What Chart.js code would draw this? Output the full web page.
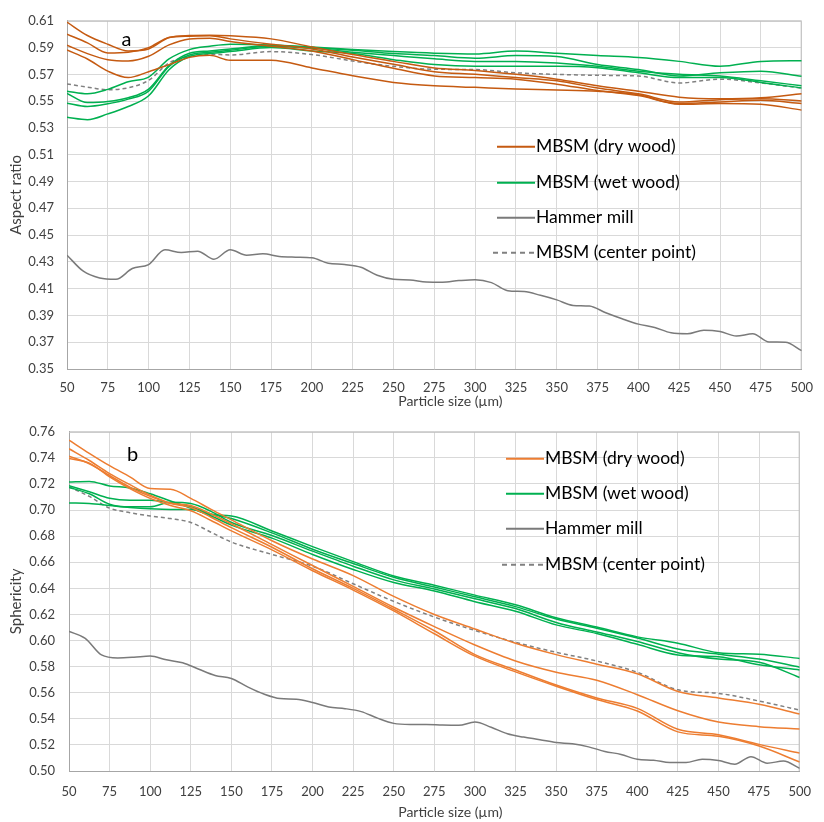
<!DOCTYPE html>
<html><head><meta charset="utf-8">
<script src="https://cdn.jsdelivr.net/npm/chart.js@4.4.1/dist/chart.umd.min.js"></script>
<style>
html,body{margin:0;padding:0;background:#fff;}
#wrap{position:relative;width:824px;height:822px;}
#ca{position:absolute;left:0;top:0;}
#cb{position:absolute;left:0;top:410px;}
</style></head><body>
<div id="wrap"><canvas id="ca" width="824" height="410"></canvas><canvas id="cb" width="824" height="412"></canvas></div>
<script>
// Particle size (µm)
const xs = [50, 62.5, 75, 87.5, 100, 112.5, 125, 137.5, 150, 175, 200, 225, 250, 275, 300, 325, 350, 375, 400, 425, 450, 475, 500];
const xFine = [50,60,70,80,90,100,110,120,130,140,150,160,170,180,190,200,210,220,230,240,250,260,270,280,290,300,310,320,330,340,350,360,370,380,390,400,410,420,430,440,450,460,470,480,490,500];
const xTicks = [50,75,100,125,150,175,200,225,250,275,300,325,350,375,400,425,450,475,500];

// Panel a: Aspect ratio
const aDry1 = [0.609,0.599,0.5925,0.5875,0.589,0.5975,0.599,0.5992,0.5988,0.5965,0.5905,0.5848,0.5797,0.5748,0.5729,0.570,0.5664,0.5615,0.5574,0.553,0.5518,0.5525,0.5555];
const aDry2 = [0.600,0.5935,0.586,0.5865,0.590,0.5975,0.5985,0.5988,0.5965,0.5925,0.589,0.583,0.5775,0.5719,0.570,0.5676,0.5652,0.5598,0.5555,0.5494,0.5511,0.5518,0.5501];
const aDry3 = [0.5918,0.5855,0.581,0.580,0.5835,0.592,0.5965,0.597,0.5945,0.591,0.5875,0.581,0.5745,0.5688,0.5676,0.5664,0.5627,0.5579,0.5542,0.5482,0.5494,0.5506,0.5482];
const aDry4 = [0.5882,0.5815,0.5724,0.5676,0.572,0.5773,0.5827,0.5842,0.5805,0.5805,0.5748,0.569,0.564,0.5615,0.5603,0.5591,0.5584,0.5574,0.5548,0.5477,0.5482,0.5477,0.5433];
const aWet1 = [0.5574,0.5555,0.5588,0.5645,0.568,0.5815,0.5885,0.591,0.5925,0.592,0.5905,0.5885,0.587,0.5858,0.5852,0.5874,0.5858,0.584,0.5826,0.5797,0.576,0.5797,0.5802];
const aWet2 = [0.5558,0.549,0.5497,0.5525,0.559,0.5765,0.5858,0.5875,0.589,0.5915,0.590,0.588,0.5855,0.584,0.5821,0.584,0.5833,0.5773,0.5736,0.5688,0.5712,0.5724,0.5686];
const aWet3 = [0.5485,0.546,0.548,0.5515,0.5575,0.576,0.5845,0.5865,0.588,0.591,0.5895,0.5865,0.584,0.5816,0.5797,0.5797,0.5785,0.576,0.5724,0.570,0.5688,0.5652,0.5615];
const aWet4 = [0.538,0.5362,0.5405,0.546,0.554,0.5735,0.5833,0.5855,0.587,0.590,0.5875,0.5855,0.581,0.5773,0.576,0.576,0.576,0.575,0.5712,0.5676,0.5676,0.564,0.5598];
const aCenter = [0.5628,0.5605,0.5585,0.560,0.5655,0.5785,0.5833,0.585,0.5845,0.587,0.5848,0.580,0.576,0.5738,0.5736,0.5712,0.570,0.5693,0.5688,0.5636,0.5664,0.5636,0.5597];
const aHammer = [0.435,0.423,0.418,0.417,0.425,0.428,0.439,0.437,0.438,0.432,0.439,0.435,0.436,0.434,0.4335,0.433,0.429,0.428,0.426,0.420,0.417,0.4165,0.415,0.4148,0.416,0.4167,0.4145,0.4085,0.4078,0.405,0.4016,0.3975,0.397,0.392,0.3875,0.3835,0.381,0.377,0.3763,0.379,0.378,0.3746,0.3763,0.3702,0.370,0.3637];

// Panel b: Sphericity
const bDry1 = [0.7536,0.7435,0.734,0.7255,0.7165,0.716,0.709,0.7005,0.6925,0.6765,0.6625,0.6498,0.6338,0.620,0.6089,0.5979,0.5892,0.5819,0.5745,0.561,0.556,0.5511,0.5437];
const bDry2 = [0.747,0.738,0.728,0.7195,0.7115,0.7055,0.7035,0.697,0.6895,0.6735,0.6575,0.6415,0.6255,0.6107,0.5966,0.5843,0.5757,0.5696,0.5585,0.5462,0.5375,0.534,0.5322];
const bDry3 = [0.7413,0.7355,0.7265,0.7175,0.7105,0.705,0.702,0.6945,0.6865,0.6715,0.655,0.640,0.624,0.6075,0.5892,0.5774,0.5659,0.556,0.548,0.532,0.5278,0.5204,0.5137];
const bDry4 = [0.7396,0.736,0.7255,0.7165,0.709,0.7035,0.6995,0.692,0.684,0.6695,0.6535,0.6387,0.6227,0.6052,0.588,0.576,0.565,0.5548,0.546,0.530,0.5266,0.5191,0.5069];
const bWet1 = [0.7216,0.722,0.7185,0.717,0.7125,0.707,0.7015,0.6965,0.6955,0.684,0.672,0.6605,0.6495,0.6424,0.6348,0.6274,0.6175,0.6103,0.6028,0.598,0.5907,0.5895,0.5863];
const bWet2 = [0.7187,0.714,0.709,0.7075,0.7075,0.7055,0.7025,0.697,0.6935,0.6825,0.670,0.659,0.6485,0.641,0.6335,0.626,0.6165,0.6095,0.602,0.5935,0.5895,0.5858,0.5796];
const bWet3 = [0.7174,0.7125,0.7045,0.7025,0.7025,0.706,0.705,0.699,0.6905,0.6805,0.6685,0.657,0.6465,0.6395,0.632,0.6245,0.6139,0.6066,0.5993,0.5907,0.5858,0.5834,0.5717];
const bWet4 = [0.7055,0.705,0.7035,0.702,0.701,0.7005,0.7005,0.6955,0.6885,0.6785,0.666,0.6545,0.6445,0.638,0.6298,0.6225,0.612,0.6054,0.5971,0.589,0.5875,0.5815,0.5775];
const bCenter = [0.7178,0.7105,0.7015,0.698,0.6955,0.6935,0.6905,0.683,0.6755,0.666,0.657,0.6435,0.630,0.618,0.6077,0.5986,0.591,0.5843,0.5757,0.5622,0.5595,0.5536,0.5467];
const bHammer = [0.607,0.6017,0.589,0.5867,0.5872,0.5881,0.5852,0.583,0.578,0.5732,0.5709,0.5645,0.559,0.5555,0.555,0.5525,0.549,0.5478,0.5455,0.5405,0.5365,0.5357,0.5357,0.5352,0.535,0.5375,0.5335,0.5285,0.526,0.524,0.5218,0.5208,0.5185,0.515,0.5127,0.509,0.5083,0.5065,0.5065,0.509,0.508,0.5052,0.511,0.506,0.5076,0.502];

const legendLabels = ['MBSM (dry wood)', 'MBSM (wet wood)', 'Hammer mill', 'MBSM (center point)'];
const xTitle = 'Particle size (µm)';

const FONT = 'Lato, "Open Sans", sans-serif';
const GREEN = '#00B050';
const GRAY = '#7a7a7a';
const DASH = '#808080';
const TXT = '#404040';

function pts(xArr, yArr) { return yArr.map((v, i) => ({x: xArr[i], y: v})); }

function ds(label, xArr, yArr, color, dash) {
  return {label, data: pts(xArr, yArr), borderColor: color, backgroundColor: color,
    borderWidth: 1.5, borderDash: dash || [], pointRadius: 0, fill: false,
    cubicInterpolationMode: 'monotone'};
}

function makeChart(id, cfg) {
  const overlay = {
    id: 'overlay' + id,
    beforeDatasetsDraw(chart) {
      const {ctx, chartArea: a} = chart;
      ctx.save();
      ctx.strokeStyle = '#bfbfbf'; ctx.lineWidth = 1;
      ctx.beginPath();
      ctx.moveTo(a.left, a.top + 0.5); ctx.lineTo(a.right - 0.5, a.top + 0.5); ctx.lineTo(a.right - 0.5, a.bottom);
      ctx.stroke();
      ctx.restore();
    },
    afterDraw(chart) {
      const {ctx, chartArea: a} = chart;
      ctx.save();
      // panel letter
      ctx.fillStyle = '#000';
      ctx.font = '20px ' + FONT;
      ctx.textBaseline = 'alphabetic'; ctx.textAlign = 'left';
      ctx.fillText(cfg.panel, a.left + cfg.panelDx, a.top + cfg.panelDy);
      // x axis title
      ctx.fillStyle = TXT;
      ctx.font = '14px ' + FONT;
      ctx.textAlign = 'center'; ctx.textBaseline = 'middle';
      ctx.fillText(xTitle, (a.left + a.right) / 2 + 16, a.bottom + cfg.xTitleDy);
      // legend
      const items = [
        {c: cfg.dryColor, d: []}, {c: GREEN, d: []}, {c: GRAY, d: []}, {c: DASH, d: [5, 4]}
      ];
      ctx.font = '17.5px ' + FONT;
      ctx.textAlign = 'left';
      items.forEach((it, i) => {
        const y = a.top + cfg.legRows[i];
        const x0 = a.left + (i === 3 ? cfg.legX0d : cfg.legX0);
        const x1 = a.left + cfg.legX1;
        ctx.strokeStyle = it.c; ctx.lineWidth = 2; ctx.setLineDash(it.d);
        ctx.beginPath(); ctx.moveTo(x0, y); ctx.lineTo(x1, y); ctx.stroke();
        ctx.setLineDash([]);
        ctx.fillStyle = '#000';
        ctx.fillText(legendLabels[i], x1 + 1, y);
      });
      ctx.restore();
    }
  };
  return new Chart(document.getElementById(id), {
    type: 'line',
    data: {datasets: cfg.datasets},
    plugins: [overlay],
    options: {
      responsive: false, animation: false, devicePixelRatio: 1,
      layout: {padding: cfg.padding},
      plugins: {legend: {display: false}, tooltip: {enabled: false}},
      scales: {
        x: {type: 'linear', min: 50, max: 500,
          afterBuildTicks: s => { s.ticks = xTicks.map(v => ({value: v})); },
          ticks: {autoSkip: false, maxRotation: 0, padding: cfg.xPad, color: TXT, font: {family: FONT, size: 13}},
          grid: {color: '#d9d9d9', drawTicks: false},
          border: {color: '#a6a6a6'},
          title: {display: false},
          afterFit: s => { s.height = cfg.xHeight; }
        },
        y: {min: cfg.yMin, max: cfg.yMax,
          ticks: {stepSize: 0.02, autoSkip: false, padding: cfg.yPad, color: TXT, font: {family: FONT, size: 13},
            callback: v => Number(v).toFixed(2)},
          grid: {color: '#d9d9d9', drawTicks: false},
          border: {color: '#a6a6a6'},
          title: {display: true, text: cfg.yTitle, color: TXT, font: {family: FONT, size: 15}, padding: {top: 7, bottom: 0}},
          afterFit: s => { s.width = cfg.yWidth; }
        }
      }
    }
  });
}

const dryA = '#C55A11';
makeChart('ca', {
  panel: 'a', panelDx: 54.5, panelDy: 25, dryColor: dryA,
  legX0: 430, legX0d: 426, legX1: 468, legRows: [126, 162, 197, 232],
  padding: {top: 10, right: 18, left: 0, bottom: 0},
  xPad: 11, xTitleDy: 32, xHeight: 41, yPad: 13, yWidth: 67,
  yMin: 0.35, yMax: 0.61, yTitle: 'Aspect ratio',
  datasets: [
    ds('MBSM (dry wood) 1', xs, aDry1, dryA), ds('MBSM (dry wood) 2', xs, aDry2, dryA),
    ds('MBSM (dry wood) 3', xs, aDry3, dryA), ds('MBSM (dry wood) 4', xs, aDry4, dryA),
    ds('MBSM (wet wood) 1', xs, aWet1, GREEN), ds('MBSM (wet wood) 2', xs, aWet2, GREEN),
    ds('MBSM (wet wood) 3', xs, aWet3, GREEN), ds('MBSM (wet wood) 4', xs, aWet4, GREEN),
    ds('MBSM (center point)', xs, aCenter, DASH, [4, 3]),
    ds('Hammer mill', xFine, aHammer, GRAY)
  ]
});

const dryB = '#ED7D31';
makeChart('cb', {
  panel: 'b', panelDx: 58, panelDy: 29, dryColor: dryB,
  legX0: 437, legX0d: 433, legX1: 475, legRows: [27, 62, 97, 133],
  padding: {top: 9, right: 12, left: 0, bottom: 0},
  xPad: 13, xTitleDy: 41, xHeight: 51, yPad: 14, yWidth: 69,
  yMin: 0.50, yMax: 0.76, yTitle: 'Sphericity',
  datasets: [
    ds('MBSM (dry wood) 1', xs, bDry1, dryB), ds('MBSM (dry wood) 2', xs, bDry2, dryB),
    ds('MBSM (dry wood) 3', xs, bDry3, dryB), ds('MBSM (dry wood) 4', xs, bDry4, dryB),
    ds('MBSM (wet wood) 1', xs, bWet1, GREEN), ds('MBSM (wet wood) 2', xs, bWet2, GREEN),
    ds('MBSM (wet wood) 3', xs, bWet3, GREEN), ds('MBSM (wet wood) 4', xs, bWet4, GREEN),
    ds('MBSM (center point)', xs, bCenter, DASH, [4, 3]),
    ds('Hammer mill', xFine, bHammer, GRAY)
  ]
});
</script>
</body></html>
